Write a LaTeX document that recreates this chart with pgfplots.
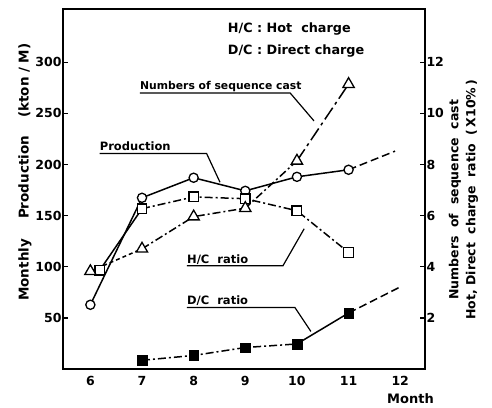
\documentclass[border=0pt]{standalone}
\usepackage{fontspec}
\setmainfont{DejaVu Sans}
\usepackage{pgfplots}
\pgfplotsset{compat=1.18}

% line styles
\tikzset{
  lw/.style={line width=1.5bp},
  dd/.style={lw,dash pattern=on 8bp off 3bp on 2bp off 3bp},
  ds/.style={lw,dash pattern=on 8bp off 4bp},
  dt/.style={lw,dash pattern=on 4bp off 3bp},
}
\pgfplotsset{
  base/.style={
    scale only axis,width=362bp,height=360bp,
    xmin=5.47,xmax=12.48,ymin=0,
    clip=false,
    axis line style={line width=1.8bp},
    tick align=inside,
    major tick length=5bp,
    tick style={line width=1.3bp,black},
    ticklabel style={font=\bfseries\fontsize{12.5bp}{15bp}\selectfont},
    /pgf/number format/assume math mode=true,
  },
}

\begin{document}
\begin{tikzpicture}
\begin{axis}[base,
  ymax=352,
  xtick={6,...,12},xtick pos=bottom,
  xtick style={draw=none},
  xticklabel style={yshift=-4bp},
  ytick={50,100,...,300},ytick pos=left,
  yticklabel style={xshift=2bp},
]
% production
\addplot[lw,no marks] coordinates {(6,62.8) (7,167.4) (8,187) (9,174.2) (10,187.9) (11,194.8)};
\addplot[ds,no marks] coordinates {(11,194.8) (11.9,213)};
\addplot[only marks,mark=*,mark size=4.6bp,mark options={fill=white,draw=black,line width=1.3bp}]
  coordinates {(6,62.8) (7,167.4) (8,187) (9,174.2) (10,187.9) (11,194.8)};

% annotations
\begin{scope}[every node/.style={font=\bfseries\fontsize{11.5bp}{14bp}\selectfont,inner sep=0}]
\node[anchor=base west,font=\bfseries\fontsize{12.8bp}{15bp}\selectfont] at (axis cs:8.66,328.6) {H/C : Hot\ \ charge};
\node[anchor=base west,font=\bfseries\fontsize{12.8bp}{15bp}\selectfont] at (axis cs:8.66,307.8) {D/C : Direct\ charge};

\node[anchor=base west,font=\bfseries\fontsize{10.8bp}{13bp}\selectfont] at (axis cs:6.96,273) {Numbers\ of\ sequence\ cast};
\draw[line width=1.2bp] (axis cs:6.96,269.8) -- (axis cs:9.87,269.8) -- (axis cs:10.33,242.6);

\node[anchor=base west] at (axis cs:6.18,213.4) {Production};
\draw[line width=1.2bp] (axis cs:6.18,210.8) -- (axis cs:8.25,210.8) -- (axis cs:8.51,182.6);

\node[anchor=base west] at (axis cs:7.87,103.6) {H/C\ \ ratio};
\draw[line width=1.2bp] (axis cs:7.87,101) -- (axis cs:9.73,101) -- (axis cs:10.14,137.1);

\node[anchor=base west] at (axis cs:7.87,62.8) {D/C\ \ ratio};
\draw[line width=1.2bp] (axis cs:7.87,60.2) -- (axis cs:9.96,60.2) -- (axis cs:10.27,36.7);
\end{scope}

% axis descriptions
\node[rotate=90,font=\bfseries\fontsize{13.5bp}{16bp}\selectfont] at (rel axis cs:-0.105,0.547)
  {Monthly\hspace{20bp}Production\hspace{18bp}(kton / M)};
\node[font=\bfseries\fontsize{13bp}{16bp}\selectfont] at (rel axis cs:0.96,-0.083) {Month};
\node[rotate=90,align=center,font=\bfseries\fontsize{12.5bp}{17bp}\selectfont] at (rel axis cs:1.106,0.47)
  {Numbers\ \ of\ \ sequence\ \ cast\\Hot, Direct\ \ charge\ \ ratio\ \ (\,X10\%\,)};

% page frame 492 x 408
\path (rel axis cs:0,0) ++(-63bp,-39bp) rectangle ++(492bp,408bp);
\end{axis}

\begin{axis}[base,
  ymax=14.08,
  axis x line=none,axis y line*=right,
  ytick={2,4,...,12},ytick pos=right,
  yticklabel style={xshift=-2bp},
]
% H/C ratio
\addplot[lw,no marks] coordinates {(6.18,3.86) (7,6.27)};
\addplot[dd,no marks] coordinates {(7,6.27) (8,6.73) (9,6.66) (10,6.19) (11,4.56)};
% numbers of sequence cast
\addplot[dt,no marks] coordinates {(6,3.82) (7,4.70)};
\addplot[dd,no marks] coordinates {(7,4.70) (8,5.96) (9,6.29) (10,8.14)};
\addplot[lw,dash pattern=on 14bp off 4bp on 3bp off 4bp,no marks] coordinates {(10,8.14) (11,11.14)};
% D/C ratio
\addplot[dd,no marks] coordinates {(7,0.34) (8,0.53) (9,0.84) (10,0.98)};
\addplot[lw,no marks] coordinates {(10,0.98) (11,2.19)};
\addplot[ds,no marks] coordinates {(11,2.19) (11.98,3.19)};

\addplot[only marks,mark=square*,mark size=4.8bp,mark options={fill=white,draw=black,line width=1.3bp}]
  coordinates {(6.18,3.86) (7,6.27) (8,6.73) (9,6.66) (10,6.19) (11,4.56)};
\addplot[only marks,mark=triangle*,mark size=6.5bp,mark options={fill=white,draw=black,line width=1.3bp}]
  coordinates {(6,3.82) (7,4.70) (8,5.96) (9,6.29) (10,8.14) (11,11.14)};
\addplot[only marks,mark=square*,mark size=4.8bp,mark options={fill=black,draw=black}]
  coordinates {(7,0.34) (8,0.53) (9,0.84) (10,0.98) (11,2.19)};
\end{axis}
\end{tikzpicture}
\end{document}
